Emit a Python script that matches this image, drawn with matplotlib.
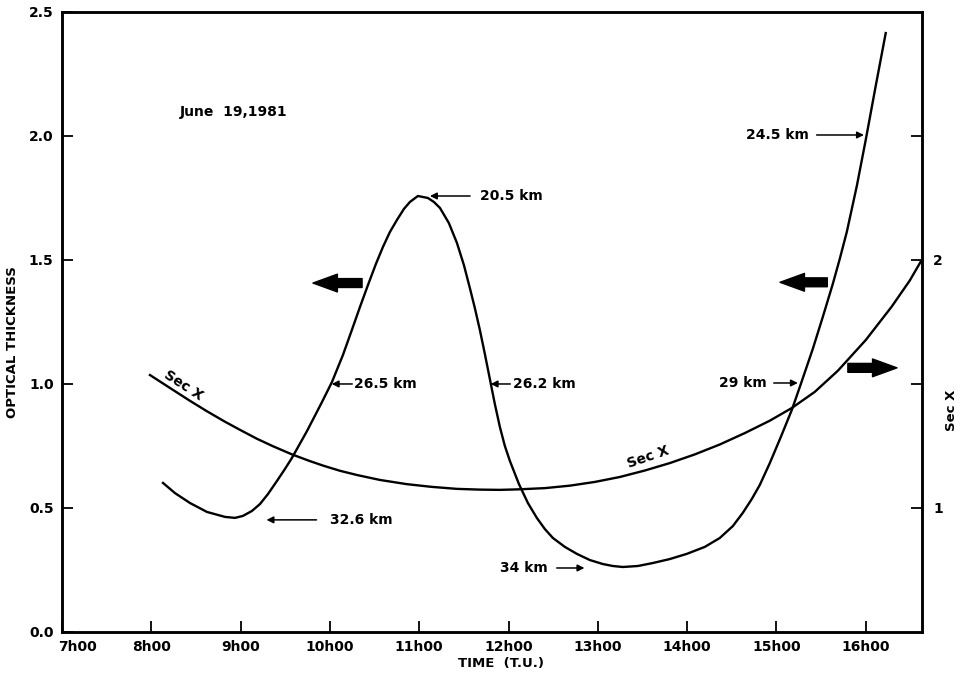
import matplotlib
matplotlib.use('Agg')
import matplotlib.pyplot as plt
from matplotlib.transforms import ScaledTranslation

# optical thickness (time in hours T.U.)
tau_t = [8.131, 8.265, 8.433, 8.623, 8.825, 8.937, 9.026, 9.127, 9.217, 9.306,
         9.407, 9.496, 9.575, 9.743, 9.911, 10.023, 10.146, 10.246, 10.336,
         10.426, 10.515, 10.593, 10.672, 10.750, 10.829, 10.896, 10.985,
         11.097, 11.164, 11.232, 11.332, 11.422, 11.500, 11.567, 11.623,
         11.679, 11.735, 11.791, 11.847, 11.903, 11.959, 12.015, 12.116,
         12.217, 12.317, 12.407, 12.497, 12.631, 12.765, 12.911, 13.056,
         13.168, 13.280, 13.448, 13.616, 13.806, 13.997, 14.198, 14.366,
         14.512, 14.623, 14.724, 14.814, 14.926, 15.049, 15.172, 15.262,
         15.407, 15.519, 15.631, 15.709, 15.788, 15.900, 16.000, 16.112, 16.224]
tau = [0.601, 0.560, 0.520, 0.484, 0.464, 0.460, 0.468, 0.488, 0.516, 0.556,
       0.609, 0.657, 0.702, 0.810, 0.927, 1.008, 1.117, 1.218, 1.310,
       1.399, 1.484, 1.552, 1.613, 1.661, 1.706, 1.734, 1.758,
       1.750, 1.734, 1.710, 1.649, 1.569, 1.480, 1.387, 1.306,
       1.218, 1.121, 1.020, 0.919, 0.827, 0.750, 0.690, 0.597,
       0.520, 0.460, 0.415, 0.379, 0.343, 0.315, 0.290, 0.274,
       0.266, 0.262, 0.266, 0.278, 0.294, 0.315, 0.343, 0.379,
       0.427, 0.480, 0.536, 0.593, 0.681, 0.786, 0.895, 0.988,
       1.141, 1.270, 1.403, 1.504, 1.613, 1.798, 1.984, 2.202, 2.415]

# sec X (right axis)
sec_t = [7.985, 8.243, 8.433, 8.623, 8.814, 8.993, 9.183, 9.362, 9.575, 9.776,
         9.922, 10.112, 10.302, 10.560, 10.862, 11.142, 11.422, 11.679, 11.903,
         12.105, 12.407, 12.687, 12.967, 13.247, 13.526, 13.806, 14.086, 14.366,
         14.646, 14.926, 15.172, 15.429, 15.687, 16.000, 16.291, 16.493, 16.627]
sec_x = [1.536, 1.476, 1.432, 1.390, 1.350, 1.315, 1.279, 1.249, 1.216, 1.189,
         1.171, 1.150, 1.133, 1.113, 1.096, 1.085, 1.077, 1.074, 1.073,
         1.075, 1.080, 1.090, 1.105, 1.125, 1.151, 1.181, 1.216, 1.256,
         1.302, 1.352, 1.403, 1.468, 1.553, 1.677, 1.812, 1.917, 2.000]

hours = [7, 8, 9, 10, 11, 12, 13, 14, 15, 16]
hour_labels = ['7h00', '8h00', '9h00', '10h00', '11h00', '12h00', '13h00',
               '14h00', '15h00', '16h00']
tau_ticks = [0.0, 0.5, 1.0, 1.5, 2.0, 2.5]
sec_ticks = [1, 1.5, 2, 2.5]
sec_labels = ['1', '', '2', '']

# altitude labels: (text, arrow tail, arrow head, text x, ha)
alt_notes = [
    ('20.5 km', (11.57, 1.758), (11.12, 1.758), 11.68, 'left'),
    ('26.5 km', (10.25, 1.0), (10.02, 1.0), 10.27, 'left'),
    ('26.2 km', (12.02, 1.0), (11.80, 1.0), 12.05, 'left'),
    ('32.6 km', (9.85, 0.452), (9.29, 0.452), 10.0, 'left'),
    ('34 km', (12.54, 0.258), (12.85, 0.258), 12.44, 'right'),
    ('24.5 km', (15.45, 2.004), (15.98, 2.004), 15.36, 'right'),
    ('29 km', (14.97, 1.004), (15.24, 1.004), 14.89, 'right'),
]
big_arrows = [((10.36, 1.407), (9.81, 1.407)),
              ((15.57, 1.41), (15.04, 1.41)),
              ((15.80, 1.065), (16.35, 1.065))]

plt.rcParams['font.family'] = 'DejaVu Sans'
plt.rcParams['font.weight'] = 'bold'
plt.rcParams['axes.labelweight'] = 'bold'

fig = plt.figure(figsize=(9.6, 6.81), dpi=100)
ax = fig.add_axes([0.0646, 0.072, 0.8958, 0.9104])
ax.plot(tau_t, tau, color='k', lw=1.7)
ax.set_xlim(7, 16.63)
ax.set_ylim(0, 2.5)
ax.set_xticks(hours)
ax.set_xticklabels(hour_labels)
ax.set_yticks(tau_ticks)
ax.set_yticklabels(['%.1f' % v for v in tau_ticks])
ax.tick_params(direction='in', length=8, width=1.3, labelsize=10, pad=6)
for s in ax.spines.values():
    s.set_linewidth(1.8)

lbl = ax.get_xticklabels()[0]
lbl.set_transform(lbl.get_transform() + ScaledTranslation(0.15, 0, fig.dpi_scale_trans))

ax2 = ax.twinx()
ax2.plot(sec_t, sec_x, color='k', lw=1.7)
ax2.set_ylim(0.5, 3.0)
ax2.set_yticks(sec_ticks)
ax2.set_yticklabels(sec_labels)
ax2.tick_params(direction='in', length=8, width=1.3, labelsize=10, pad=8)
for s in ax2.spines.values():
    s.set_linewidth(1.8)

ax.set_ylabel('OPTICAL THICKNESS', fontsize=9.5)
ax.yaxis.set_label_coords(-0.05, 0.468)
ax.set_xlabel('TIME  (T.U.)', fontsize=9.5)
ax.xaxis.set_label_coords(0.51, -0.04)
ax2.set_ylabel('Sec X', fontsize=9.5)
ax2.yaxis.set_label_coords(1.027, 0.358)

ax.text(8.32, 2.097, 'June  19,1981', fontsize=10, va='center')

for txt, tail, head, tx, ha in alt_notes:
    ax.annotate('', xy=head, xytext=tail,
                arrowprops=dict(arrowstyle='-|>', color='k', lw=1.1,
                                mutation_scale=10, shrinkA=0, shrinkB=0))
    ax.text(tx, tail[1], txt, fontsize=10, ha=ha, va='center')

for tail, head in big_arrows:
    ax.annotate('', xy=head, xytext=tail,
                arrowprops=dict(arrowstyle='simple,head_length=1.1,head_width=0.8,tail_width=0.4',
                                fc='k', ec='k', mutation_scale=16, shrinkA=0, shrinkB=0))

ax.text(8.36, 0.996, 'Sec X', fontsize=10, rotation=-33, ha='center', va='center')
ax.text(13.56, 0.706, 'Sec X', fontsize=10, rotation=19, ha='center', va='center')

fig.savefig('out.png', dpi=100)
